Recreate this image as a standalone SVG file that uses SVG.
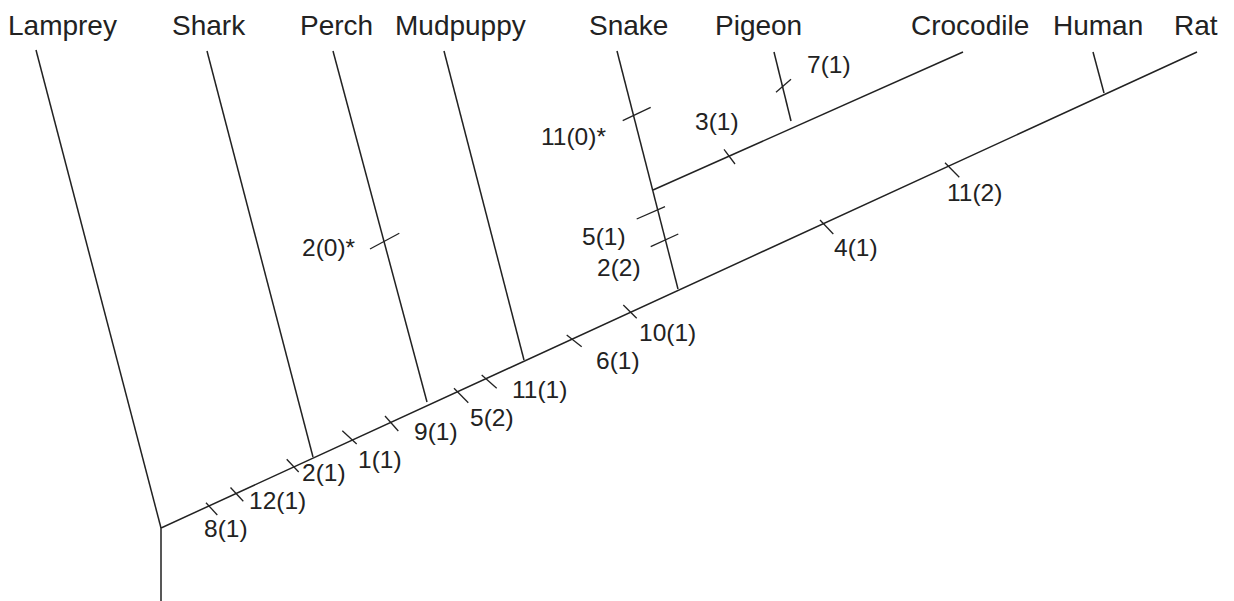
<svg xmlns="http://www.w3.org/2000/svg" width="1234" height="601" viewBox="0 0 1234 601">
<style>
.ln{stroke:#222;stroke-width:1.5;fill:none;stroke-linecap:butt}
.tk{stroke:#222;stroke-width:1.3;fill:none}
.nm{font-family:"Liberation Sans",Arial,sans-serif;font-size:28px;fill:#222}
.lb{font-family:"Liberation Sans",Arial,sans-serif;font-size:24.5px;fill:#222}
</style>
<rect width="1234" height="601" fill="#fff"/>
<g id="connectors">
<path class="ln" d="M161,601 L161,528 L1197,52"/>
<path class="ln" d="M36,50 L161,528"/>
<path class="ln" d="M207,51 L313,457"/>
<path class="ln" d="M333,51 L427,402"/>
<path class="ln" d="M444,51 L524,360"/>
<path class="ln" d="M617,51 L678,289"/>
<path class="ln" d="M653,190 L963,52"/>
<path class="ln" d="M774,52 L791,121"/>
<path class="ln" d="M1093,52 L1104,93"/>
<g id="ticks">
<path class="tk" d="M206,502.7 L217.3,515"/>
<path class="tk" d="M230.5,487.5 L243.3,501.3"/>
<path class="tk" d="M286.7,459.2 L298.7,472"/>
<path class="tk" d="M342.3,430.7 L356.7,444"/>
<path class="tk" d="M385,416 L398.3,431"/>
<path class="tk" d="M454,388.3 L468.3,402.7"/>
<path class="tk" d="M481.7,375 L496.7,388.3"/>
<path class="tk" d="M566.7,335 L581.7,346.7"/>
<path class="tk" d="M623.3,305 L636.7,318.3"/>
<path class="tk" d="M820,220 L833.3,234"/>
<path class="tk" d="M945,162.7 L959.3,177.3"/>
<path class="tk" d="M622.7,120.7 L650.7,107.3"/>
<path class="tk" d="M636.7,219 L665,206.7"/>
<path class="tk" d="M650.7,246.7 L678.3,234"/>
<path class="tk" d="M370,249 L399.3,233.3"/>
<path class="tk" d="M776,92.3 L791,79.3"/>
<path class="tk" d="M724,149.3 L735,164"/>
</g>
</g>
<g id="node-lamprey"><text class="nm" x="8" y="35">Lamprey</text></g>
<g id="node-shark"><text class="nm" x="172" y="35">Shark</text></g>
<g id="node-perch"><text class="nm" x="300" y="35">Perch</text></g>
<g id="node-mudpuppy"><text class="nm" x="395" y="35">Mudpuppy</text></g>
<g id="node-snake"><text class="nm" x="589" y="35">Snake</text></g>
<g id="node-pigeon"><text class="nm" x="715" y="35">Pigeon</text></g>
<g id="node-crocodile"><text class="nm" x="911" y="35">Crocodile</text></g>
<g id="node-human"><text class="nm" x="1053" y="35">Human</text></g>
<g id="node-rat"><text class="nm" x="1174" y="35">Rat</text></g>
<g id="labels">
<text class="lb" x="204" y="537">8(1)</text>
<text class="lb" x="249" y="509">12(1)</text>
<text class="lb" x="302" y="481">2(1)</text>
<text class="lb" x="358" y="468">1(1)</text>
<text class="lb" x="414" y="440">9(1)</text>
<text class="lb" x="470" y="426">5(2)</text>
<text class="lb" x="512" y="398">11(1)</text>
<text class="lb" x="596" y="369">6(1)</text>
<text class="lb" x="639" y="341">10(1)</text>
<text class="lb" x="834" y="256">4(1)</text>
<text class="lb" x="947" y="201">11(2)</text>
<text class="lb" x="807" y="73">7(1)</text>
<text class="lb" x="695" y="130">3(1)</text>
<text class="lb" x="541" y="145">11(0)*</text>
<text class="lb" x="582" y="245">5(1)</text>
<text class="lb" x="597" y="276">2(2)</text>
<text class="lb" x="302" y="256">2(0)*</text>
</g>
</svg>
